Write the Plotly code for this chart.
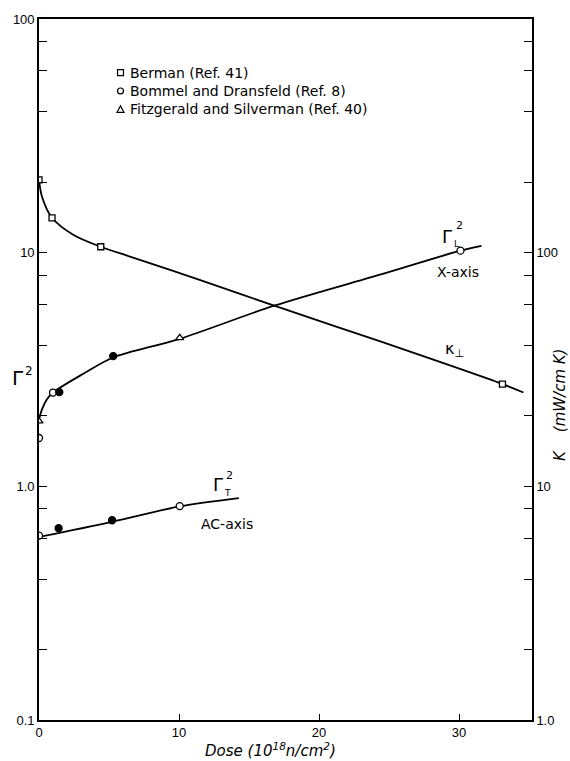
import plotly.graph_objects as go

# ---- data -------------------------------------------------------------
# Gamma_L^2 (X-axis) smoothed curve
gl_curve_x = [0, 0.22, 0.57, 1.0, 3.2, 5.3, 10.0, 16.8, 24.3, 30.1, 31.6]
gl_curve_y = [1.93, 2.14, 2.36, 2.52, 3.04, 3.56, 4.27, 5.93, 8.03, 10.2, 10.7]

# Gamma_T^2 (AC-axis) curve
gt_curve_x = [0, 5.22, 10.05, 14.27]
gt_curve_y = [0.607, 0.705, 0.82, 0.89]

# Thermal conductivity K_perp (mW/cm K), right axis
k_curve_x = [0, 0.22, 0.93, 2.47, 4.41, 6.5, 11.47, 16.8, 24.27, 33.1, 34.6]
k_curve_y = [205, 173, 141, 119, 106, 96.2, 76.5, 59.3, 41.9, 27.4, 25.2]

# Measured points
berman_x = [0, 0.93, 4.41, 33.1]          # K, open squares
berman_k = [205, 141, 106, 27.4]
bommel_x = [0, 1.0, 30.1, 0, 10.05]       # Gamma^2, open circles
bommel_y = [1.61, 2.52, 10.2, 0.615, 0.823]
solid_x = [1.45, 5.3, 1.4, 5.22]          # Gamma^2, filled circles
solid_y = [2.53, 3.61, 0.662, 0.716]
fitz_x = [0, 10.05]                       # Gamma^2, open triangles
fitz_y = [1.90, 4.32]

x_ticks = [0, 10, 20, 30]
left_major = [0.1, 1, 10, 100]
left_labels = ["0.1", "1.0", "10", "100"]
left_minor = [0.2, 0.4, 0.6, 0.8, 2, 4, 6, 8, 20, 40, 60, 80]
right_major = [1, 10, 100]
right_labels = ["1.0", "10", "100"]
right_minor = [2, 4, 6, 8, 20, 40, 60, 80, 200, 400, 600, 800]

legend_names = ["Berman (Ref. 41)", "Bommel and Dransfeld (Ref. 8)",
                "Fitzgerald and Silverman (Ref. 40)"]

# ---- layout geometry (pixels) ------------------------------------------
W, H = 570, 761
L, R, T, B = 38.6, 534.0, 14.0, 720.0
FONT = "DejaVu Sans"
TICKFONT = "Liberation Sans"


def px(x):
    return (x - L) / (R - L)


def py(y):
    return (B - y) / (B - T)


fig = go.Figure()
line_style = dict(color="black", width=1.8, shape="spline", smoothing=0.9)

fig.add_trace(go.Scatter(x=gl_curve_x, y=gl_curve_y, mode="lines", line=line_style,
                         showlegend=False, hoverinfo="skip"))
fig.add_trace(go.Scatter(x=gt_curve_x, y=gt_curve_y, mode="lines", line=line_style,
                         showlegend=False, hoverinfo="skip"))
fig.add_trace(go.Scatter(x=k_curve_x, y=k_curve_y, mode="lines", line=line_style,
                         yaxis="y2", showlegend=False, hoverinfo="skip"))

mk_line = dict(color="black", width=1.3)
fig.add_trace(go.Scatter(x=berman_x, y=berman_k, mode="markers", yaxis="y2",
                         marker=dict(symbol="square", size=6, color="white", line=mk_line),
                         showlegend=False))
fig.add_trace(go.Scatter(x=bommel_x, y=bommel_y, mode="markers",
                         marker=dict(symbol="circle", size=7, color="white", line=mk_line),
                         showlegend=False))
fig.add_trace(go.Scatter(x=solid_x, y=solid_y, mode="markers",
                         marker=dict(symbol="circle", size=7, color="black", line=mk_line),
                         showlegend=False))
fig.add_trace(go.Scatter(x=fitz_x, y=fitz_y, mode="markers",
                         marker=dict(symbol="triangle-up", size=7, color="white", line=mk_line),
                         showlegend=False))

# ---- legend drawn by hand ----------------------------------------------
shapes = []
annotations = []
leg_rows = [68, 86.5, 105]
mx, tx = 120.5, 128
for i, (row, name) in enumerate(zip(leg_rows, legend_names)):
    annotations.append(dict(x=px(tx), y=py(row), xref="paper", yref="paper",
                            text=name, showarrow=False, xanchor="left", yanchor="middle",
                            font=dict(family=FONT, size=14, color="black")))
    if i == 0:
        shapes.append(dict(type="rect", xref="paper", yref="paper",
                           x0=px(mx - 3), x1=px(mx + 3), y0=py(row + 3), y1=py(row - 3),
                           line=dict(color="black", width=1.2)))
    elif i == 1:
        shapes.append(dict(type="circle", xref="paper", yref="paper",
                           x0=px(mx - 3), x1=px(mx + 3), y0=py(row + 3), y1=py(row - 3),
                           line=dict(color="black", width=1.2)))
    else:
        path = "M {} {} L {} {} L {} {} Z".format(px(mx - 3.5), py(row + 3), px(mx + 3.5),
                                                  py(row + 3), px(mx), py(row - 3.5))
        shapes.append(dict(type="path", xref="paper", yref="paper", path=path,
                           line=dict(color="black", width=1.2)))


def label(x, y, text, size=13, **kw):
    d = dict(x=px(x), y=py(y), xref="paper", yref="paper", text=text, showarrow=False,
             xanchor="center", yanchor="middle",
             font=dict(family=FONT, size=size, color="black"))
    d.update(kw)
    annotations.append(d)


# curve labels
label(449, 233, "Γ", 18)
label(461, 222, "2", 11)
label(458.5, 241, "L", 9)
label(459.5, 269, "X-axis", 14)
label(456, 347, "κ<sub>⊥</sub>", 16)
label(218, 483, "Γ", 18)
label(230, 474, "2", 11)
label(228, 491.5, "T", 9)
label(228, 523, "AC-axis", 14)

# axis titles
label(17, 376, "Γ", 20)
label(29, 369, "2", 12)
label(271, 750, "<i>Dose (10<sup>18</sup>n/cm<sup>2</sup>)</i>", 15)
label(562, 402, "<i>K&nbsp;&nbsp;&nbsp;&nbsp;(mW/cm K)</i>", 15, textangle=-90)

axis_common = dict(showline=True, linecolor="black", linewidth=1.6, ticks="inside",
                   tickcolor="black", tickwidth=1.3, showgrid=False, zeroline=False,
                   tickfont=dict(family=TICKFONT, size=13, color="black"))

fig.update_layout(
    width=W, height=H,
    margin=dict(l=L, r=W - R, t=T, b=H - B, pad=0),
    paper_bgcolor="white", plot_bgcolor="white",
    showlegend=False,
    xaxis=dict(range=[0, (R - L) / 14.07], tickvals=x_ticks, ticklen=6, mirror=True,
               **axis_common),
    yaxis=dict(type="log", range=[-1, 2], tickvals=left_major, ticktext=left_labels,
               ticklen=8,
               minor=dict(tickvals=left_minor, ticks="inside", ticklen=8,
                          tickcolor="black", tickwidth=1.3, showgrid=False),
               **axis_common),
    yaxis2=dict(type="log", range=[0, 3], tickvals=right_major, ticktext=right_labels,
                ticklen=8, overlaying="y", side="right",
                minor=dict(tickvals=right_minor, ticks="inside", ticklen=8,
                           tickcolor="black", tickwidth=1.3, showgrid=False),
                **axis_common),
    shapes=shapes,
    annotations=annotations,
)

fig.write_html("out.html")
